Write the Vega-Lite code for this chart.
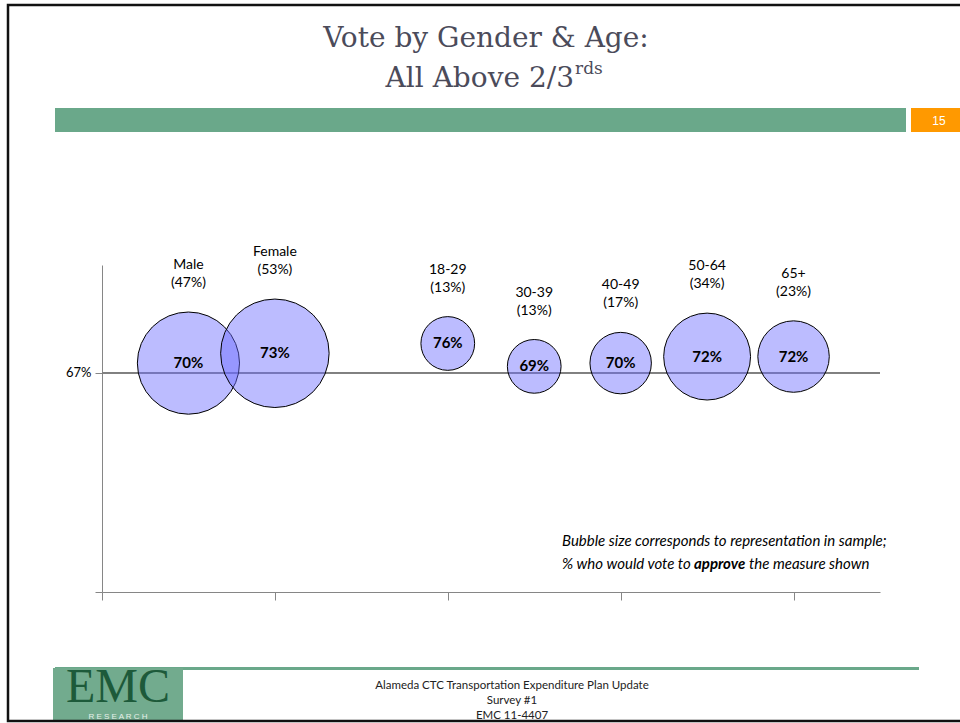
{
  "$schema": "https://vega.github.io/schema/vega-lite/v6.json",
  "width": 778,
  "height": 327,
  "autosize": {"type": "none"},
  "padding": {"left": 102, "top": 265, "right": 80, "bottom": 131},
  "background": "white",
  "config": {"view": {"stroke": null}, "font": "Lato"},
  "data": {
    "values": [
      {"group": "Male", "share": 47, "vote": 70, "pos": 0.5, "name": "Male\n(47%)", "voteLabel": "70%"},
      {"group": "Female", "share": 53, "vote": 73, "pos": 1, "name": "Female\n(53%)", "voteLabel": "73%"},
      {"group": "18-29", "share": 13, "vote": 76, "pos": 2, "name": "18-29\n(13%)", "voteLabel": "76%"},
      {"group": "30-39", "share": 13, "vote": 69, "pos": 2.5, "name": "30-39\n(13%)", "voteLabel": "69%"},
      {"group": "40-49", "share": 17, "vote": 70, "pos": 3, "name": "40-49\n(17%)", "voteLabel": "70%"},
      {"group": "50-64", "share": 34, "vote": 72, "pos": 3.5, "name": "50-64\n(34%)", "voteLabel": "72%"},
      {"group": "65+", "share": 23, "vote": 72, "pos": 4, "name": "65+\n(23%)", "voteLabel": "72%"}
    ]
  },
  "layer": [
    {
      "mark": {"type": "rule", "color": "#808080", "strokeWidth": 1},
      "encoding": {"y": {"datum": 67, "type": "quantitative"}}
    },
    {
      "mark": {"type": "point", "shape": "circle", "filled": true, "fill": "#6b6bff", "fillOpacity": 0.45, "stroke": "#000000", "strokeWidth": 1, "strokeOpacity": 1, "opacity": 1},
      "encoding": {
        "x": {
          "field": "pos", "type": "quantitative",
          "scale": {"domain": [0, 4.5], "nice": false, "zero": false},
          "axis": {"values": [0, 1, 2, 3, 4], "labels": false, "tickSize": 8, "domainColor": "#868686", "tickColor": "#868686", "grid": false, "title": null}
        },
        "y": {
          "field": "vote", "type": "quantitative",
          "scale": {"domain": [0, 100], "nice": false},
          "axis": {"values": [0, 67], "labelExpr": "datum.value == 67 ? '67%' : ''", "tickSize": 7, "domainColor": "#868686", "tickColor": "#868686", "grid": false, "title": null, "labelFont": "Lato", "labelFontSize": 13, "labelColor": "#000000", "labelPadding": 4}
        },
        "size": {"field": "share", "type": "quantitative", "scale": {"domain": [0, 100], "range": [0, 22200]}, "legend": null}
      }
    },
    {
      "mark": {"type": "text", "font": "Lato", "fontSize": 15, "fontWeight": "bold", "color": "#000000", "align": "center", "baseline": "middle"},
      "encoding": {
        "x": {"field": "pos", "type": "quantitative"},
        "y": {"field": "vote", "type": "quantitative"},
        "text": {"field": "voteLabel"}
      }
    },
    {
      "mark": {"type": "text", "font": "Lato", "fontSize": 14, "color": "#000000", "align": "center", "baseline": "bottom", "lineBreak": "\n", "lineHeight": 18},
      "encoding": {
        "x": {"field": "pos", "type": "quantitative"},
        "y": {"field": "vote", "type": "quantitative"},
        "radius": {"field": "share", "type": "quantitative", "scale": {"type": "sqrt", "domain": [0, 100], "range": [40, 114.5], "zero": false}},
        "text": {"field": "name"}
      }
    },
    {
      "data": {"values": [{}]},
      "layer": [
        {"mark": {"type": "rect", "color": "#6aa88a"}, "encoding": {"x": {"value": -47}, "x2": {"value": 804}, "y": {"value": -157}, "y2": {"value": -133}}},
        {"mark": {"type": "rect", "color": "#ff9900"}, "encoding": {"x": {"value": 809}, "x2": {"value": 870}, "y": {"value": -157}, "y2": {"value": -133}}},
        {"mark": {"type": "text", "text": "15", "font": "Liberation Sans", "fontSize": 12, "color": "#ffffff", "align": "center", "baseline": "middle"}, "encoding": {"x": {"value": 837}, "y": {"value": -144}}},
        {"mark": {"type": "text", "text": "Vote by Gender & Age:", "font": "DejaVu Serif", "fontSize": 28, "color": "#4b4b5a", "align": "center", "baseline": "alphabetic"}, "encoding": {"x": {"value": 384}, "y": {"value": -218}}},
        {"mark": {"type": "text", "text": "All Above 2/3", "font": "DejaVu Serif", "fontSize": 28, "color": "#4b4b5a", "align": "right", "baseline": "alphabetic"}, "encoding": {"x": {"value": 472}, "y": {"value": -178}}},
        {"mark": {"type": "text", "text": "rds", "font": "DejaVu Serif", "fontSize": 17, "color": "#4b4b5a", "align": "left", "baseline": "alphabetic"}, "encoding": {"x": {"value": 473}, "y": {"value": -191}}},
        {"mark": {"type": "text", "text": "Bubble size corresponds to representation in sample;", "font": "Lato", "fontSize": 15, "fontStyle": "italic", "color": "#000000", "align": "left", "baseline": "middle"}, "encoding": {"x": {"value": 460}, "y": {"value": 276}}},
        {"mark": {"type": "text", "text": "% who would vote to", "font": "Lato", "fontSize": 15, "fontStyle": "italic", "color": "#000000", "align": "left", "baseline": "middle"}, "encoding": {"x": {"value": 460}, "y": {"value": 299}}},
        {"mark": {"type": "text", "text": "approve", "font": "Lato", "fontSize": 15, "fontStyle": "italic", "fontWeight": "bold", "color": "#000000", "align": "left", "baseline": "middle"}, "encoding": {"x": {"value": 592}, "y": {"value": 299}}},
        {"mark": {"type": "text", "text": "the measure shown", "font": "Lato", "fontSize": 15, "fontStyle": "italic", "color": "#000000", "align": "left", "baseline": "middle"}, "encoding": {"x": {"value": 647}, "y": {"value": 299}}},
        {"mark": {"type": "rect", "color": "#6aa88a"}, "encoding": {"x": {"value": -47}, "x2": {"value": 817}, "y": {"value": 402}, "y2": {"value": 405}}},
        {"mark": {"type": "rect", "color": "#72ab8e"}, "encoding": {"x": {"value": -49}, "x2": {"value": 81}, "y": {"value": 403}, "y2": {"value": 455}}},
        {"mark": {"type": "text", "text": "EMC", "font": "Liberation Serif", "fontSize": 48, "color": "#1d5a3a", "align": "center", "baseline": "alphabetic"}, "encoding": {"x": {"value": 16}, "y": {"value": 437}}},
        {"mark": {"type": "text", "text": "R E S E A R C H", "font": "Liberation Sans", "fontSize": 8, "color": "#e6efe9", "align": "center", "baseline": "middle"}, "encoding": {"x": {"value": 16}, "y": {"value": 452}}},
        {"mark": {"type": "text", "text": "Alameda CTC Transportation Expenditure Plan Update", "font": "Lato", "fontSize": 11.5, "color": "#222222", "align": "center", "baseline": "middle"}, "encoding": {"x": {"value": 410}, "y": {"value": 421}}},
        {"mark": {"type": "text", "text": "Survey #1", "font": "Lato", "fontSize": 11.5, "color": "#222222", "align": "center", "baseline": "middle"}, "encoding": {"x": {"value": 410}, "y": {"value": 436}}},
        {"mark": {"type": "text", "text": "EMC 11-4407", "font": "Lato", "fontSize": 11.5, "color": "#222222", "align": "center", "baseline": "middle"}, "encoding": {"x": {"value": 410}, "y": {"value": 451}}},
        {"mark": {"type": "rect", "fill": null, "fillOpacity": 0, "stroke": "#111111", "strokeWidth": 2.5}, "encoding": {"x": {"value": -94}, "x2": {"value": 880}, "y": {"value": -260}, "y2": {"value": 456}}}
      ]
    }
  ]
}
